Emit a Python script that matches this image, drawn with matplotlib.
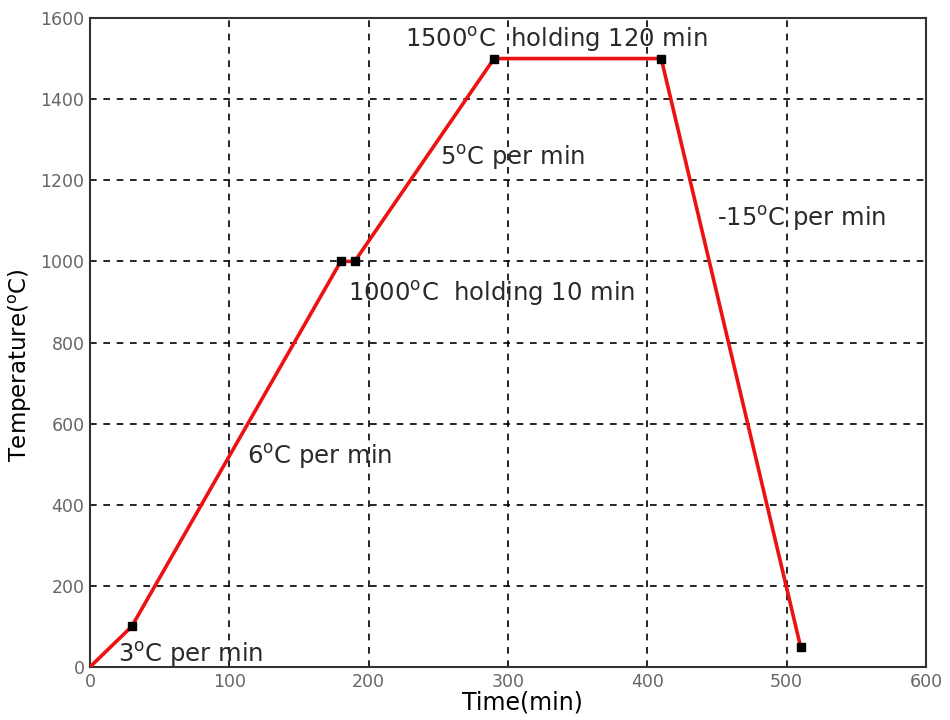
import matplotlib
matplotlib.use("Agg")
import matplotlib.pyplot as plt

plt.rcParams["font.family"] = ["DejaVu Sans"]
plt.rcParams["mathtext.fontset"] = "dejavusans"

# Heating schedule
time_min = [0, 30, 180, 190, 290, 410, 510]
temp_c = [0, 100, 1000, 1000, 1500, 1500, 50]

# Annotations
labels = [
    "3$^{\\rm o}$C per min",
    "6$^{\\rm o}$C per min",
    "1000$^{\\rm o}$C  holding 10 min",
    "5$^{\\rm o}$C per min",
    "1500$^{\\rm o}$C  holding 120 min",
    "-15$^{\\rm o}$C per min",
]
label_x = [20, 113, 185, 251, 226, 450]
label_y = [30, 520, 920, 1255, 1548, 1105]

fig = plt.figure(figsize=(9.5, 7.2), dpi=100)
ax = fig.add_axes([0.0947, 0.0736, 0.88, 0.9014])

ax.plot(time_min, temp_c, color="#ee1111", linewidth=2.6, zorder=3)
ax.plot(time_min[1:], temp_c[1:], linestyle="none", marker="s",
        markersize=5.5, color="black", zorder=4)

for txt, x, y in zip(labels, label_x, label_y):
    ax.text(x, y, txt, fontsize=17.5, color="#2a2a2a", va="center", ha="left", zorder=5)

ax.set_xlim(0, 600)
ax.set_ylim(0, 1600)
ax.set_xticks(range(0, 601, 100))
ax.set_yticks(range(0, 1601, 200))
ax.grid(True, color="black", linestyle=(0, (4, 4)), linewidth=1.2)
ax.tick_params(labelsize=12.5, labelcolor="#666666", length=0, pad=4)
for s in ax.spines.values():
    s.set_linewidth(1.5)
    s.set_color("#333333")

ax.set_xlabel("Time(min)", fontsize=17)
ax.xaxis.set_label_coords(0.517, -0.036, transform=ax.transAxes)
ax.xaxis.label.set_va("top")
ax.set_ylabel("Temperature($^{\\rm o}$C)", fontsize=16.5)
ax.yaxis.set_label_coords(-0.067, 0.465, transform=ax.transAxes)

plt.savefig("out.png", dpi=100)
